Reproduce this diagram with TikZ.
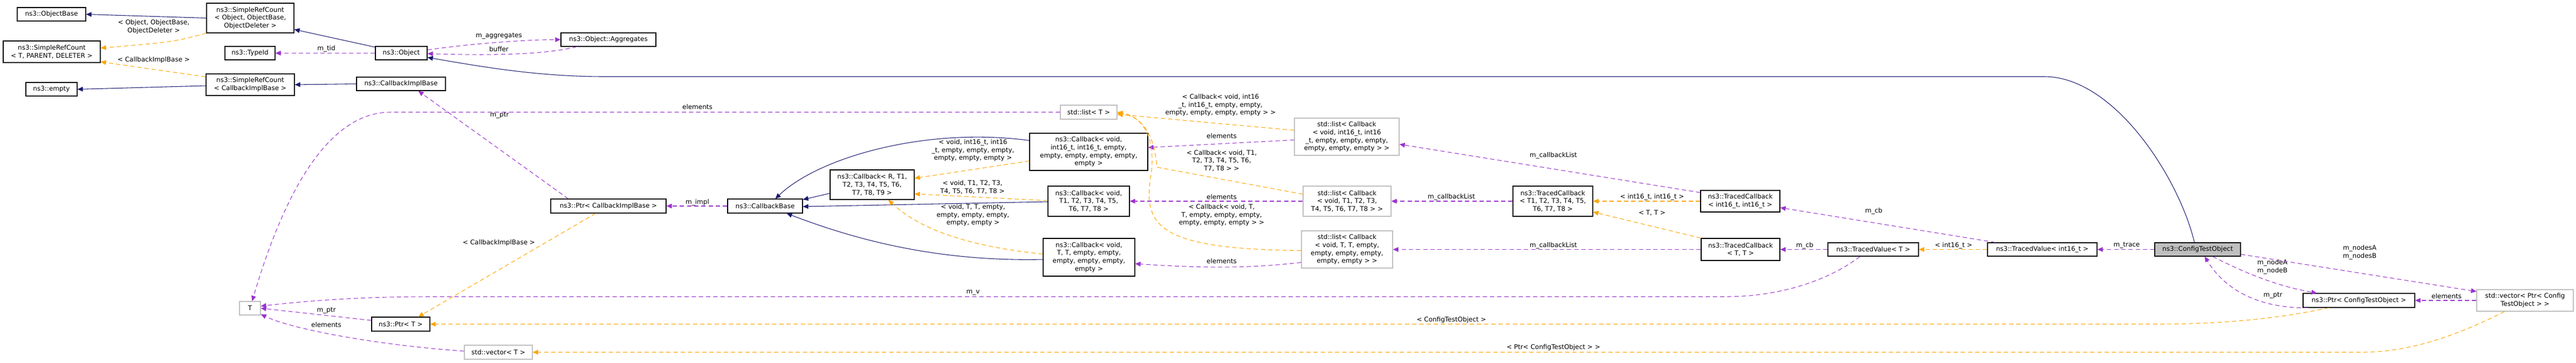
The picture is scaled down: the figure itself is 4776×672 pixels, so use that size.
\documentclass[tikz,border=0pt]{standalone}
\usepackage{fontspec}
\setmainfont{DejaVu Sans}
\usetikzlibrary{arrows.meta,calc}
\definecolor{inhc}{HTML}{191970}
\definecolor{usec}{HTML}{9A32CD}
\definecolor{tplc}{HTML}{FFA500}
\definecolor{grayb}{HTML}{BFBFBF}
\newcommand\bx[7]{\node[#6, minimum width={(#4-#2)*0.75pt}, minimum height={(#5-#3)*0.75pt}] (#1) at ({(#2+#4)/2},{(#3+#5)/2}) {#7};}
\begin{document}
\begin{tikzpicture}[x=0.75pt,y=-0.75pt,
  base/.style={inner sep=0pt, align=center, font=\fontsize{9}{11}\selectfont},
  box/.style={base, draw=black, line width=0.9pt, fill=white},
  gbox/.style={base, draw=grayb, line width=0.9pt, fill=white},
  cbox/.style={base, draw=black, line width=0.9pt, fill=grayb},
  lbl/.style={base},
  tip/.style={-{Triangle[length=7.5pt,width=6.5pt,fill=#1]}},
  inh/.style={tip=inhc, draw=inhc, line width=0.8pt},
  use/.style={tip=usec, draw=usec, line width=0.8pt, dash pattern=on 6pt off 4pt},
  tpl/.style={tip=tplc, draw=tplc, line width=0.8pt, dash pattern=on 6pt off 4pt}]
\useasboundingbox (0,0) rectangle (4776,672);
\bx{objbase}{32}{14}{159}{39}{box}{ns3::ObjectBase}
\bx{srco}{383}{6}{545}{61}{box}{ns3::SimpleRefCount\\< Object, ObjectBase,\\ObjectDeleter >}
\bx{srctpd}{6}{76}{186}{116}{box}{ns3::SimpleRefCount\\< T, PARENT, DELETER >}
\bx{typeid}{417}{86}{510}{111}{box}{ns3::TypeId}
\bx{object}{696}{86}{792}{111}{box}{ns3::Object}
\bx{agg}{1040}{61}{1216}{86}{box}{ns3::Object::Aggregates}
\bx{empty}{48}{153}{143}{178}{box}{ns3::empty}
\bx{srccib}{382}{137}{546}{177}{box}{ns3::SimpleRefCount\\< CallbackImplBase >}
\bx{cib}{661}{143}{826}{168}{box}{ns3::CallbackImplBase}
\bx{T}{444}{559}{483}{584}{gbox}{T}
\bx{ptrT}{689}{588}{797}{614}{box}{ns3::Ptr< T >}
\bx{vecT}{861}{640}{987}{666}{gbox}{std::vector< T >}
\bx{ptrcib}{1021}{369}{1235}{395}{box}{ns3::Ptr< CallbackImplBase >}
\bx{cbbase}{1349}{369}{1488}{395}{box}{ns3::CallbackBase}
\bx{cbR}{1539}{315}{1695}{370}{box}{ns3::Callback< R, T1,\\T2, T3, T4, T5, T6,\\T7, T8, T9 >}
\bx{cbi16}{1909}{247}{2128}{316}{box}{ns3::Callback< void,\\int16\_t, int16\_t, empty,\\empty, empty, empty, empty,\\empty >}
\bx{cbT18}{1943}{345}{2094}{401}{box}{ns3::Callback< void,\\T1, T2, T3, T4, T5,\\T6, T7, T8 >}
\bx{cbTT}{1934}{442}{2104}{512}{box}{ns3::Callback< void,\\T, T, empty, empty,\\empty, empty, empty,\\empty >}
\bx{listT}{1966}{195}{2071}{221}{gbox}{std::list< T >}
\bx{lcbi16}{2400}{219}{2594}{288}{gbox}{std::list< Callback\\< void, int16\_t, int16\\\_t, empty, empty, empty,\\empty, empty, empty > >}
\bx{lcbT18}{2416}{345}{2579}{401}{gbox}{std::list< Callback\\< void, T1, T2, T3,\\T4, T5, T6, T7, T8 > >}
\bx{lcbTT}{2413}{428}{2582}{497}{gbox}{std::list< Callback\\< void, T, T, empty,\\empty, empty, empty,\\empty, empty > >}
\bx{tcb18}{2805}{345}{2953}{401}{box}{ns3::TracedCallback\\< T1, T2, T3, T4, T5,\\T6, T7, T8 >}
\bx{tcbi16}{3153}{353}{3300}{393}{box}{ns3::TracedCallback\\< int16\_t, int16\_t >}
\bx{tcbTT}{3154}{442}{3300}{483}{box}{ns3::TracedCallback\\< T, T >}
\bx{tvT}{3389}{450}{3557}{475}{box}{ns3::TracedValue< T >}
\bx{tvi16}{3685}{450}{3888}{475}{box}{ns3::TracedValue< int16\_t >}
\bx{cto}{3995}{450}{4154}{475}{cbox}{ns3::ConfigTestObject}
\bx{ptrcto}{4270}{544}{4477}{570}{box}{ns3::Ptr< ConfigTestObject >}
\bx{vecpcto}{4592}{537}{4771}{577}{gbox}{std::vector< Ptr< Config\\TestObject > >}

\draw[inh] (srco.west) -- (objbase.east);
\draw[tpl] (srco.south west) .. controls (320,78) .. ($(srctpd.east)+(0,-7)$) node[lbl,at={(285,50)}]{< Object, ObjectBase,\\ObjectDeleter >};
\draw[inh] ($(object.north west)+(0,2)$) -- ($(srco.south east)+(0,-7)$);
\draw[use] (object.west) -- (typeid.east) node[lbl,at={(605,90)}]{m\_tid};
\draw[use] ($(object.east)+(0,-6)$) .. controls (880,80) and (980,73.5) .. (agg.west) node[lbl,at={(925,67)}]{m\_aggregates};
\draw[use] ($(agg.south west)+(30,0)$) .. controls (1000,104) and (880,102) .. ($(object.east)+(0,1)$) node[lbl,at={(925,91)}]{buffer};
\draw[inh] ($(srccib.west)+(0,2)$) -- (empty.east);
\draw[tpl] ($(srccib.north west)+(0,6)$) -- ($(srctpd.south east)+(0,-2)$) node[lbl,at={(285,111)}]{< CallbackImplBase >};
\draw[inh] (cib.west) -- (srccib.east);
\draw[use] ($(ptrcib.north west)+(33,0)$) -- ($(cib.south)+(32,0)$) node[lbl,at={(926,214)}]{m\_ptr};
\draw[tpl] ($(ptrcib.south west)+(84,0)$) -- ($(ptrT.north east)+(-22,0)$) node[lbl,at={(925,450)}]{< CallbackImplBase >};
\draw[use] (cbbase.west) -- (ptrcib.east) node[lbl,at={(1293,375)}]{m\_impl};
\draw[inh] ($(cbR.west)+(0,16)$) -- ($(cbbase.east)+(0,-12)$);
\draw[inh] ($(cbi16.west)+(0,-21)$) .. controls (1720,235) and (1520,290) .. ($(cbbase.north)+(19,0)$);
\draw[inh] ($(cbT18.west)+(0,1)$) -- ($(cbbase.east)+(0,1)$);
\draw[inh] ($(cbTT.west)+(0,4)$) .. controls (1750,485) and (1600,450) .. ($(cbbase.south)+(40,0)$);
\draw[tpl] ($(cbi16.west)+(0,17)$) -- ($(cbR.east)+(0,-12)$) node[lbl,at={(1804,279)}]{< void, int16\_t, int16\\\_t, empty, empty, empty,\\empty, empty, empty >};
\draw[tpl] ($(cbT18.west)+(0,-1)$) -- ($(cbR.east)+(0,17)$) node[lbl,at={(1803,347)}]{< void, T1, T2, T3,\\T4, T5, T6, T7, T8 >};
\draw[tpl] ($(cbTT.west)+(0,-6)$) .. controls (1780,455) and (1700,420) .. ($(cbR.south)+(30,0)$) node[lbl,at={(1804,399)}]{< void, T, T, empty,\\empty, empty, empty,\\empty, empty >};
\draw[use] (listT.west) -- (724,208) .. controls (600,208) and (520,380) .. ($(T.north)+(4,0)$) node[lbl,at={(1293,198)}]{elements};
\draw[tpl] ($(lcbi16.west)+(0,-12)$) -- ($(listT.east)+(0,4)$) node[lbl,at={(2263,195)}]{< Callback< void, int16\\\_t, int16\_t, empty, empty,\\empty, empty, empty, empty > >};
\draw[use] ($(lcbi16.west)+(0,6)$) -- ($(cbi16.east)+(0,-8)$) node[lbl,at={(2265,252)}]{elements};
\draw[tpl] ($(lcbT18.west)+(0,-13)$) -- (2145,310) .. controls (2140,240) and (2110,215) .. ($(listT.east)+(0,2)$) node[lbl,at={(2265,298)}]{< Callback< void, T1,\\T2, T3, T4, T5, T6,\\T7, T8 > >};
\draw[use] (lcbT18.west) -- (cbT18.east) node[lbl,at={(2265,365)}]{elements};
\draw[tpl] ($(lcbTT.west)+(0,2)$) .. controls (2150,462) and (2120,420) .. (2133,330) .. controls (2145,260) and (2120,216) .. (listT.east) node[lbl,at={(2265,399)}]{< Callback< void, T,\\T, empty, empty, empty,\\empty, empty, empty > >};
\draw[use] ($(lcbTT.west)+(0,24)$) .. controls (2300,500) and (2200,495) .. ($(cbTT.east)+(0,12)$) node[lbl,at={(2265,484)}]{elements};
\draw[use] ($(tcbi16.west)+(0,-16)$) -- ($(lcbi16.east)+(0,14)$) node[lbl,at={(2880,288)}]{m\_callbackList};
\draw[tpl] (tcbi16.west) -- (tcb18.east) node[lbl,at={(3063,365)}]{< int16\_t, int16\_t >};
\draw[use] (tcb18.west) -- (lcbT18.east) node[lbl,at={(2691,365)}]{m\_callbackList};
\draw[use] (tcbTT.west) -- (lcbTT.east) node[lbl,at={(2880,455)}]{m\_callbackList};
\draw[tpl] (tcbTT.north west) -- ($(tcb18.east)+(0,20)$) node[lbl,at={(3063,395)}]{< T, T >};
\draw[use] (tvT.west) -- (tcbTT.east) node[lbl,at={(3346,455)}]{m\_cb};
\draw[use] ($(tvT.south west)+(60,0)$) .. controls (3390,520) and (3300,550) .. (3200,550) -- (800,550) .. controls (650,550) and (550,560) .. ($(T.east)+(0,-4)$) node[lbl,at={(1804,543)}]{m\_v};
\draw[tpl] (tvi16.west) -- (tvT.east) node[lbl,at={(3622,455)}]{< int16\_t >};
\draw[use] ($(tvi16.north west)+(15,0)$) -- ($(tcbi16.east)+(0,12)$) node[lbl,at={(3474,391)}]{m\_cb};
\draw[use] (cto.west) -- (tvi16.east) node[lbl,at={(3943,455)}]{m\_trace};
\draw[inh] ($(cto.north)+(-6,0)$) .. controls (4040,330) and (3920,142) .. (3790,142) -- (1120,142) .. controls (1000,142) and (900,125) .. ($(object.east)+(0,8)$);
\draw[use] ($(cto.south)+(28,0)$) .. controls (4160,505) and (4220,530) .. ($(ptrcto.north west)+(26,0)$) node[lbl,at={(4213,495)}]{m\_nodeA\\m\_nodeB};
\draw[use] ($(ptrcto.south west)+(10,0)$) .. controls (4200,572) and (4130,545) .. ($(cto.south)+(13,0)$) node[lbl,at={(4214,548)}]{m\_ptr};
\draw[use] ($(cto.east)+(0,9)$) -- ($(vecpcto.north west)+(0,4)$) node[lbl,at={(4375,468)}]{m\_nodesA\\m\_nodesB};
\draw[use] (vecpcto.west) -- (ptrcto.east) node[lbl,at={(4536,549)}]{elements};
\draw[tpl] ($(ptrcto.south west)+(48,0)$) .. controls (4230,590) and (4120,601) .. (4000,601) -- (ptrT.east) node[lbl,at={(2691,593)}]{< ConfigTestObject >};
\draw[tpl] ($(vecpcto.south west)+(52,0)$) .. controls (4560,620) and (4470,653) .. (4380,653) -- (vecT.east) node[lbl,at={(2880,644)}]{< Ptr< ConfigTestObject > >};
\draw[use] ($(ptrT.west)+(0,-7)$) -- (T.east) node[lbl,at={(605,576)}]{m\_ptr};
\draw[use] ($(vecT.west)+(0,-2)$) .. controls (700,640) and (540,610) .. ($(T.south east)+(0,-2)$) node[lbl,at={(605,602)}]{elements};
\end{tikzpicture}
\end{document}
